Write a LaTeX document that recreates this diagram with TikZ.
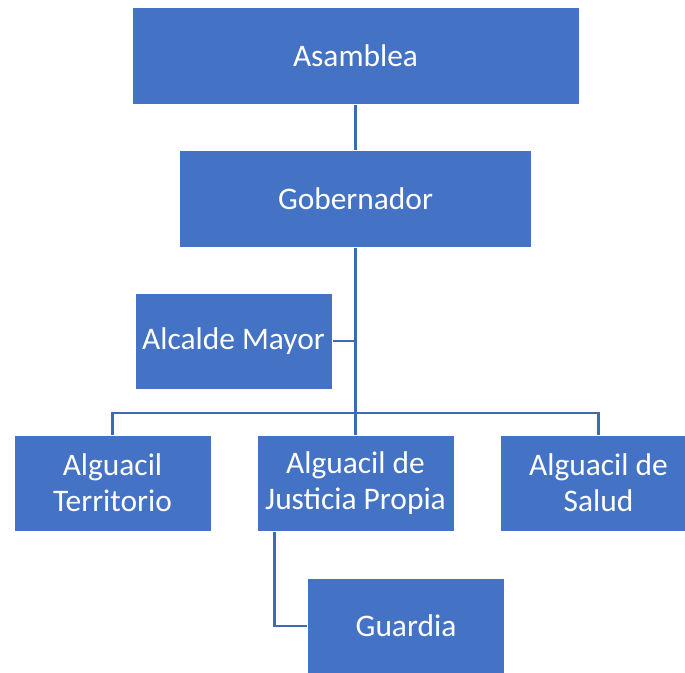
\documentclass[tikz,border=0pt]{standalone}
\usepackage{fontspec}
\setmainfont{Carlito}
\usetikzlibrary{backgrounds}
\definecolor{boxblue}{HTML}{4472C4}
\definecolor{lineblue}{HTML}{3F69B8}
\tikzset{
  orgbox/.style={fill=boxblue, draw=white, line width=1pt, inner sep=0pt,
    minimum width=197pt, minimum height=96pt, text=white, align=center,
    font=\fontsize{31.4}{36}\selectfont},
  orglink/.style={draw=lineblue, line width=2.2pt}
}
\begin{document}
\begin{tikzpicture}[x=1pt,y=-1pt]
\useasboundingbox (0,0) rectangle (685,672);
\node[orgbox, minimum width=447pt, minimum height=97pt] (asam) at (355.5,56) {Asamblea};
\node[orgbox, minimum width=352pt, minimum height=97pt] (gob) at (355.5,199) {Gobernador};
\node[orgbox] (alc) at (233.5,341) {Alcalde Mayor};
\node[orgbox] (ter) at (112.5,483) {Alguacil\\Territorio};
\node[orgbox] (jus) at (355.5,483) {Alguacil de\\Justicia Propia};
\node[orgbox] (sal) at (598.5,483) {Alguacil de\\Salud};
\node[orgbox] (gua) at (406,626) {Guardia};
\coordinate (hub) at (355.5,413);
\begin{scope}[on background layer]
\draw[orglink] (asam.south) -- (gob.north);
\draw[orglink] (gob.south) -- (jus.north);
\draw[orglink] (ter.north) |- (hub) -| (sal.north);
\draw[orglink] (alc.east) -- (alc.east -| hub);
\draw[orglink] ([xshift=18pt]jus.south west) |- (gua.west);
\end{scope}
\end{tikzpicture}
\end{document}
